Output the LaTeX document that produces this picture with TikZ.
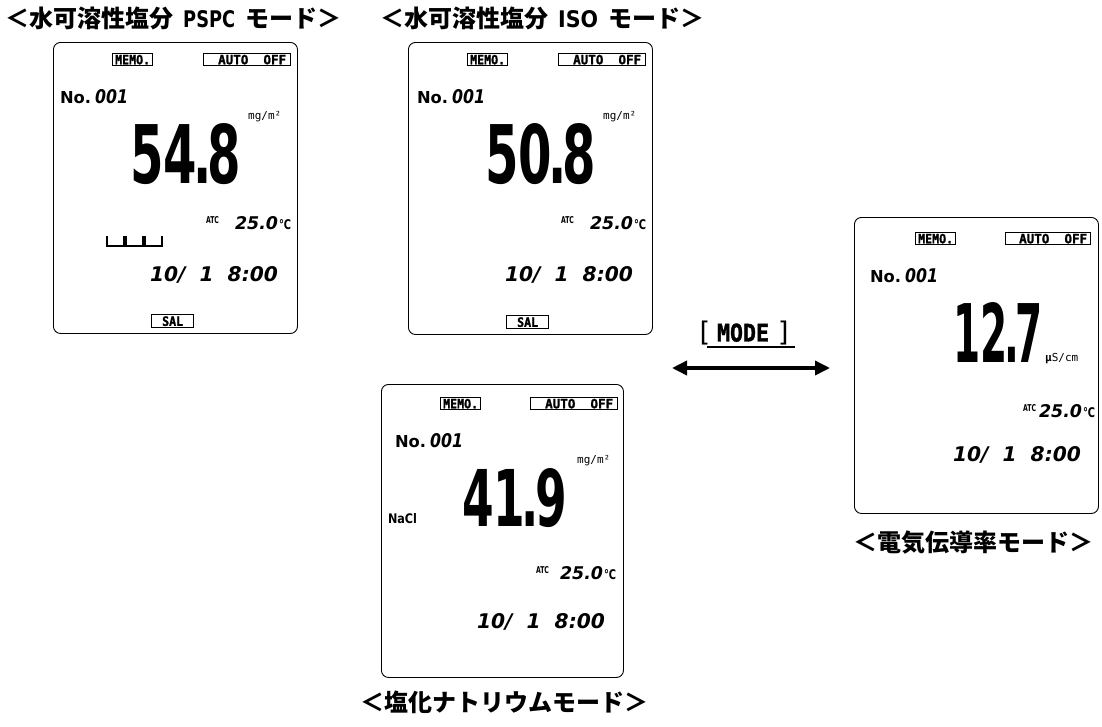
\documentclass[tikz,border=0pt]{standalone}
\usepackage{fontspec}
\usepackage{graphicx}
\usetikzlibrary{arrows.meta}
\setmainfont{DejaVu Sans}
\newfontfamily\jp{Noto Sans CJK JP}
\newfontfamily\dvs{DejaVu Sans}
\newfontfamily\dvm{DejaVu Sans Mono}
\newfontfamily\dvmh{DejaVu Sans Mono}[FakeBold=1.5]
\newcommand{\fitt}[3]{\resizebox{#1}{#2}{#3}}
\newcommand{\bigd}[3]{\resizebox{#1}{#2}{\dvs\bfseries #3}}
\newcommand{\smd}[3]{\resizebox{#1}{#2}{\dvs\bfseries\itshape #3}}
\newcommand{\hwtxt}[3]{\makebox[#1]{\resizebox{#2}{17pt}{\dvs\bfseries #3}}}
\newcommand{\degc}{\fitt{12pt}{10pt}{\dvs\bfseries ℃}}
\tikzset{
  lcd/.style={draw, line width=0.9pt, rounded corners=7pt, inner sep=0pt, anchor=north west},
  tag/.style={draw, line width=1.3pt, inner sep=0pt, minimum height=12pt, anchor=north west},
  txt/.style={inner sep=0pt, outer sep=0pt, anchor=north west},
  title/.style={inner sep=0pt, anchor=west, font=\jp\bfseries\fontsize{24}{24}\selectfont},
  unit/.style={inner sep=0pt, anchor=base west, font=\dvm\fontsize{11}{11}\selectfont},
  blank/.style={line width=1.3pt},
  dblarrow/.style={line width=3.5pt, {Triangle[length=15pt,width=14pt]}-{Triangle[length=15pt,width=14pt]}},
}
\begin{document}
\begin{tikzpicture}[x=1pt,y=-1pt]
\useasboundingbox (0,0) rectangle (1102,726);

% titles
\node[title] (t1) at (5,18) {＜水可溶性塩分\hwtxt{72pt}{52pt}{PSPC}モード＞};
\node[title] (t2) at (380,18) {＜水可溶性塩分\hwtxt{60pt}{40pt}{ISO}モード＞};
\node[title] (t3) at (360,702) {＜塩化ナトリウムモード＞};
\node[title] (t4) at (853,543) {＜電気伝導率モード＞};

% panel 1 : PSPC
\begin{scope}[shift={(53,42)}]
\node[lcd, minimum width=244pt, minimum height=291pt] (p1) at (0,0) {};
\node[tag, minimum width=40pt] (p1memo) at (59,11) {\fitt{35pt}{9.5pt}{\dvmh\bfseries MEMO.}};
\node[tag, minimum width=87pt] (p1auto) at (150,11) {\hspace*{10pt}\fitt{68pt}{9.5pt}{\dvmh\bfseries AUTO\ \ OFF}};
\node[txt] (p1no) at (7,49) {\fitt{31pt}{12pt}{\dvs\bfseries No.}};
\node[txt] (p1num) at (42,47) {\smd{33pt}{14pt}{001}};
\node[unit] (p1unit) at (195,77) {mg/m²};
\node[txt] (p1val) at (77,81) {\bigd{111pt}{60pt}{54{\kern-0.08em}.{\kern-0.08em}8}};
\node[txt] (p1atc) at (153,174) {\fitt{13pt}{7pt}{\dvs\bfseries ATC}};
\node[txt] (p1temp) at (182,174) {\smd{43pt}{13pt}{25.0}};
\node[txt] (p1deg) at (226,177) {\degc};
\node[txt] (p1date) at (97,224) {\smd{128pt}{15pt}{10/\ \ 1\ \ 8:00}};
\node[tag, minimum width=42pt, minimum height=13pt] (p1sal) at (98,272) {\fitt{21pt}{9.5pt}{\dvmh\bfseries SAL}};
\draw[blank] (54,194) -- (54,204) -- (71,204) -- (71,194);
\draw[blank] (73,194) -- (73,204) -- (90,204) -- (90,194);
\draw[blank] (92,194) -- (92,204) -- (109,204) -- (109,194);
\end{scope}

% panel 2 : ISO
\begin{scope}[shift={(408,42)}]
\node[lcd, minimum width=244pt, minimum height=292pt] (p2) at (0,0) {};
\node[tag, minimum width=40pt] (p2memo) at (59,11) {\fitt{35pt}{9.5pt}{\dvmh\bfseries MEMO.}};
\node[tag, minimum width=87pt] (p2auto) at (150,11) {\hspace*{10pt}\fitt{68pt}{9.5pt}{\dvmh\bfseries AUTO\ \ OFF}};
\node[txt] (p2no) at (9,49) {\fitt{31pt}{12pt}{\dvs\bfseries No.}};
\node[txt] (p2num) at (44,47) {\smd{33pt}{14pt}{001}};
\node[unit] (p2unit) at (195,77) {mg/m²};
\node[txt] (p2val) at (77,81) {\bigd{111pt}{60pt}{50{\kern-0.08em}.{\kern-0.08em}8}};
\node[txt] (p2atc) at (153,174) {\fitt{13pt}{7pt}{\dvs\bfseries ATC}};
\node[txt] (p2temp) at (182,174) {\smd{43pt}{13pt}{25.0}};
\node[txt] (p2deg) at (226,177) {\degc};
\node[txt] (p2date) at (97,224) {\smd{128pt}{15pt}{10/\ \ 1\ \ 8:00}};
\node[tag, minimum width=42pt, minimum height=13pt] (p2sal) at (98,273) {\fitt{21pt}{9.5pt}{\dvmh\bfseries SAL}};
\end{scope}

% panel 3 : NaCl
\begin{scope}[shift={(381,384)}]
\node[lcd, minimum width=242pt, minimum height=293pt] (p3) at (0,0) {};
\node[tag, minimum width=40pt] (p3memo) at (59,13) {\fitt{35pt}{9.5pt}{\dvmh\bfseries MEMO.}};
\node[tag, minimum width=87pt] (p3auto) at (149,13) {\hspace*{10pt}\fitt{68pt}{9.5pt}{\dvmh\bfseries AUTO\ \ OFF}};
\node[txt] (p3no) at (14,51) {\fitt{31pt}{12pt}{\dvs\bfseries No.}};
\node[txt] (p3num) at (49,49) {\smd{33pt}{14pt}{001}};
\node[unit] (p3unit) at (196,79) {mg/m²};
\node[txt] (p3val) at (81,84) {\bigd{105pt}{58pt}{41{\kern-0.08em}.{\kern-0.08em}9}};
\node[txt] (p3nacl) at (7,129) {\fitt{29pt}{10pt}{\dvs\bfseries NaCl}};
\node[txt] (p3atc) at (155,182) {\fitt{13pt}{7pt}{\dvs\bfseries ATC}};
\node[txt] (p3temp) at (179,182) {\smd{43pt}{13pt}{25.0}};
\node[txt] (p3deg) at (223,185) {\degc};
\node[txt] (p3date) at (96,229) {\smd{128pt}{15pt}{10/\ \ 1\ \ 8:00}};
\end{scope}

% panel 4 : conductivity
\begin{scope}[shift={(854,217)}]
\node[lcd, minimum width=244pt, minimum height=296pt] (p4) at (0,0) {};
\node[tag, minimum width=40pt] (p4memo) at (61,15) {\fitt{35pt}{9.5pt}{\dvmh\bfseries MEMO.}};
\node[tag, minimum width=85pt] (p4auto) at (151,15) {\hspace*{10pt}\fitt{68pt}{9.5pt}{\dvmh\bfseries AUTO\ \ OFF}};
\node[txt] (p4no) at (16,53) {\fitt{31pt}{12pt}{\dvs\bfseries No.}};
\node[txt] (p4num) at (51,51) {\smd{33pt}{14pt}{001}};
\node[txt] (p4val) at (99,85) {\bigd{90pt}{60pt}{12{\kern-0.08em}.{\kern-0.08em}7}};
\node[unit] (p4unit) at (191,144) {{\bfseries μ}S/cm};
\node[txt] (p4atc) at (169,187) {\fitt{13pt}{7pt}{\dvs\bfseries ATC}};
\node[txt] (p4temp) at (185,187) {\smd{43pt}{13pt}{25.0}};
\node[txt] (p4deg) at (229,190) {\degc};
\node[txt] (p4date) at (99,229) {\smd{128pt}{15pt}{10/\ \ 1\ \ 8:00}};
\end{scope}

% MODE key and arrow
\node[inner sep=0pt] (mode) at (744,333) {{\dvm\fontsize{27}{27}\selectfont[}\hspace{5pt}\fitt{52pt}{18pt}{\dvmh\bfseries MODE}\hspace{7pt}{\dvm\fontsize{27}{27}\selectfont]}};
\coordinate (ulA) at (707,347);
\coordinate (ulB) at (795,347);
\draw[line width=1.8pt] (ulA) -- (ulB);
\coordinate (arrL) at (672,368);
\coordinate (arrR) at (830,368);
\draw[dblarrow] (arrL) -- (arrR);
\end{tikzpicture}
\end{document}
